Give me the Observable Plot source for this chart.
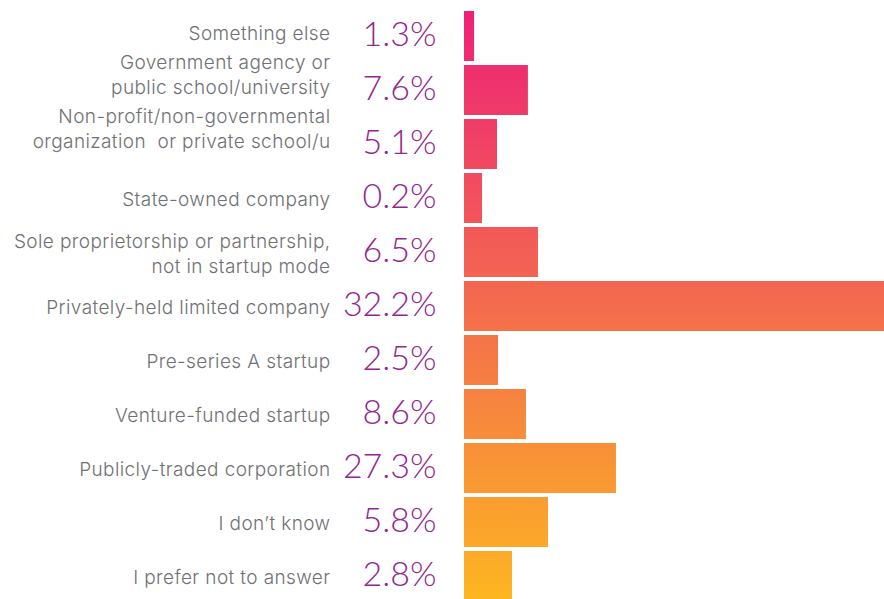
<!DOCTYPE html>
<html>
<head>
<meta charset="utf-8">
<script src="https://cdn.jsdelivr.net/npm/d3@7"></script>
<script src="https://cdn.jsdelivr.net/npm/@observablehq/plot@0.6"></script>
<style>
  html, body { margin: 0; padding: 0; background: #ffffff; }
  #chart { width: 884px; height: 599px; overflow: hidden; }
</style>
</head>
<body>
<div id="chart"></div>
<script>
const categories = [
  "Something else",
  "Government agency or\npublic school/university",
  "Non-profit/non-governmental\norganization  or private school/u",
  "State-owned company",
  "Sole proprietorship or partnership,\nnot in startup mode",
  "Privately-held limited company",
  "Pre-series A startup",
  "Venture-funded startup",
  "Publicly-traded corporation",
  "I don’t know",
  "I prefer not to answer"
];
const percentLabels = ["1.3%", "7.6%", "5.1%", "0.2%", "6.5%", "32.2%", "2.5%", "8.6%", "27.3%", "5.8%", "2.8%"];
// bar lengths as drawn in the reference (not proportional to the printed labels)
const barValues = [0.77, 4.9, 2.53, 1.38, 5.67, 32.2, 2.61, 4.75, 11.65, 6.44, 3.68];

const data = categories.map((c, i) => ({category: c, label: percentLabels[i], bar: barValues[i], top: i < 3}));

const labelFont = {
  textAnchor: "end", lineHeight: 1.3, fill: "#707174", fontSize: 19,
  fontFamily: "Inter, 'Noto Sans', sans-serif", fontWeight: 300
};

const plot = Plot.plot({
  width: 884,
  height: 599,
  marginTop: 0, marginBottom: 0, marginLeft: 0, marginRight: 0,
  style: {background: "transparent", overflow: "visible"},
  x: {domain: [0, 32.2], range: [464, 884], axis: null},
  y: {domain: categories, range: [3, 609], padding: 0.08, axis: null},
  marks: [
    Plot.barX(data, {x: "bar", y: "category", fill: "url(#barGrad)"}),
    Plot.text(data.filter(d => d.top), {
      x: 0, y: "category", text: "category", dx: -134, dy: 3, lineAnchor: "bottom", ...labelFont
    }),
    Plot.text(data.filter(d => !d.top), {
      x: 0, y: "category", text: "category", dx: -134, dy: 0, ...labelFont
    }),
    Plot.text(data, {
      x: 0, y: "category", text: "label", dx: -28, dy: -1,
      textAnchor: "end", fill: "#93278F", fontSize: 34,
      fontFamily: "Lato, 'Open Sans', sans-serif", fontWeight: 300
    })
  ]
});

document.getElementById("chart").appendChild(plot);
d3.select(plot).selectAll("g[font-size='19']").attr("letter-spacing", "0.4");

const svg = d3.select(plot);
const defs = svg.insert("defs", ":first-child");
const grad = defs.append("linearGradient")
  .attr("id", "barGrad")
  .attr("gradientUnits", "userSpaceOnUse")
  .attr("x1", 0).attr("y1", 0).attr("x2", 0).attr("y2", 599);
grad.append("stop").attr("offset", "0%").attr("stop-color", "#ED1E79");
grad.append("stop").attr("offset", "50%").attr("stop-color", "#F36A4E");
grad.append("stop").attr("offset", "100%").attr("stop-color", "#FDB621");
</script>
</body>
</html>
